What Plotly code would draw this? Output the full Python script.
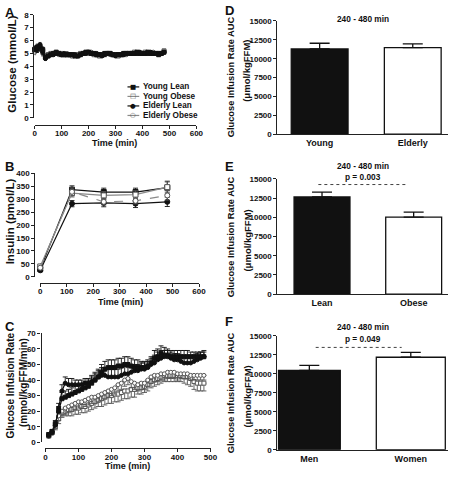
import plotly.graph_objects as go

W, H = 457, 478
def px(x): return x / W
def py(y): return 1 - y / H

FONT = "Liberation Sans, Arial, sans-serif"
BLACK = "#111111"
GREY = "#8a8a8a"
AXC = "#222222"

groups = ["Young Lean", "Young Obese", "Elderly Lean", "Elderly Obese"]

# ---------------- Panel A: glucose (mmol/L) ----------------
glucose_time = list(range(0, 481, 10))
glucose_yl = [5.3, 5.5, 5.6, 5.3, 4.7, 4.8, 4.9, 5.0, 5.1, 5.0,
              4.9, 4.9, 4.9, 4.9, 4.9, 4.8, 4.8, 4.9, 5.0, 5.1,
              5.1, 5.0, 5.0, 4.9, 4.9, 4.9, 5.0, 5.0, 5.0, 4.9,
              4.9, 4.9, 4.9, 5.0, 5.0, 5.0, 5.0, 5.0, 5.1, 5.0,
              5.0, 5.0, 5.1, 5.0, 5.0, 5.0, 4.9, 5.0, 5.1]
glucose_yo = [5.2, 5.4, 5.5, 5.2, 4.8, 4.9, 5.0, 5.0, 5.0, 5.0,
              5.0, 4.9, 4.9, 4.9, 4.8, 4.9, 4.9, 5.0, 5.0, 5.0,
              5.0, 5.0, 4.9, 4.9, 4.8, 4.9, 4.9, 5.0, 5.0, 4.9,
              4.9, 4.8, 4.9, 4.9, 5.0, 5.0, 5.0, 5.1, 5.0, 5.0,
              5.0, 5.1, 5.0, 5.0, 5.0, 5.0, 5.0, 5.0, 5.2]
glucose_el = [5.4, 5.3, 5.5, 5.1, 4.6, 4.8, 4.9, 4.9, 5.0, 5.0,
              4.9, 5.0, 4.9, 4.9, 4.9, 4.9, 4.8, 4.9, 5.0, 5.0,
              5.1, 5.0, 5.0, 5.0, 4.9, 4.8, 4.9, 5.0, 5.0, 4.9,
              4.8, 4.9, 4.9, 4.9, 5.0, 5.0, 5.0, 5.0, 5.0, 5.1,
              5.0, 5.0, 5.0, 5.1, 5.0, 5.0, 5.0, 5.0, 5.1]
glucose_eo = [5.1, 5.3, 5.4, 5.0, 4.8, 4.9, 5.0, 5.0, 5.0, 4.9,
              4.9, 4.9, 5.0, 4.9, 4.9, 4.9, 4.9, 4.9, 5.0, 5.0,
              5.0, 5.1, 5.0, 4.9, 4.9, 4.9, 5.0, 5.0, 4.9, 4.9,
              4.9, 4.9, 4.9, 5.0, 4.9, 5.0, 5.0, 5.0, 5.0, 5.0,
              5.0, 5.0, 5.0, 5.0, 5.1, 5.0, 5.0, 5.0, 5.1]
glucose_err = [0.20, 0.22, 0.25, 0.20, 0.15, 0.12, 0.10, 0.10, 0.10, 0.10,
               0.10, 0.09, 0.10, 0.10, 0.09, 0.10, 0.10, 0.10, 0.11, 0.10,
               0.10, 0.10, 0.09, 0.10, 0.10, 0.10, 0.10, 0.09, 0.10, 0.10,
               0.10, 0.10, 0.10, 0.09, 0.10, 0.10, 0.10, 0.10, 0.10, 0.09,
               0.10, 0.10, 0.09, 0.10, 0.10, 0.10, 0.10, 0.10, 0.12]

# ---------------- Panel B: insulin (pmol/L) ----------------
insulin_time = [0, 120, 240, 360, 480]
insulin_yl = [30, 337, 328, 328, 345]
insulin_yo = [40, 324, 315, 318, 347]
insulin_el = [25, 283, 286, 283, 290]
insulin_eo = [35, 329, 290, 294, 315]
insulin_err_yl = [8, 15, 15, 15, 25]
insulin_err_yo = [10, 15, 15, 15, 20]
insulin_err_el = [6, 12, 15, 15, 18]
insulin_err_eo = [8, 15, 12, 12, 18]

# ---------------- Panel C: glucose infusion rate ----------------
gir_time = list(range(10, 481, 10))
gir_yl = [5, 7, 12, 20, 28, 29, 30, 31, 32, 33,
          34, 35, 36, 38, 40, 42, 45, 47, 48, 48,
          48, 49, 49, 50, 50, 49, 48, 48, 48, 48,
          49, 51, 54, 55, 57, 56, 56, 55, 55, 55,
          55, 55, 55, 55, 55, 55, 55, 55]
gir_el = [4, 6, 11, 22, 33, 38, 37, 37, 37, 37,
          37, 38, 38, 39, 40, 42, 43, 43, 42, 42,
          42, 42, 43, 44, 44, 45, 46, 46, 47, 47,
          48, 50, 51, 53, 54, 55, 55, 54, 53, 53,
          52, 51, 51, 51, 52, 53, 54, 55]
gir_yo = [4, 6, 10, 15, 19, 20, 21, 21, 22, 22,
          23, 23, 24, 25, 26, 27, 28, 29, 30, 30,
          31, 31, 32, 33, 33, 34, 34, 35, 35, 36,
          37, 39, 40, 41, 42, 43, 43, 43, 43, 43,
          43, 42, 42, 41, 39, 38, 38, 38]
gir_eo = [5, 7, 11, 17, 20, 22, 23, 24, 25, 26,
          26, 27, 28, 29, 29, 30, 31, 32, 33, 34,
          35, 37, 38, 40, 41, 39, 38, 37, 38, 38,
          40, 42, 43, 43, 44, 44, 45, 45, 45, 44,
          44, 44, 44, 43, 43, 43, 43, 43]
gir_err_yl = [1, 1, 2, 3, 4, 4, 4, 4, 4, 4,
              4, 4, 4, 4, 5, 5, 5, 5, 5, 5,
              5, 5, 5, 5, 5, 5, 5, 5, 4, 4,
              4, 4, 5, 5, 5, 5, 4, 4, 4, 4,
              4, 4, 4, 3, 3, 3, 3, 3]
gir_err_el = [1, 1, 2, 3, 4, 4, 4, 4, 3, 3,
              3, 3, 3, 4, 4, 4, 5, 5, 5, 5,
              5, 5, 5, 5, 4, 4, 4, 4, 4, 4,
              4, 4, 5, 5, 5, 4, 4, 4, 4, 4,
              4, 4, 4, 4, 4, 4, 4, 4]
gir_err_yo = [1, 1, 2, 3, 3, 3, 4, 4, 4, 4,
              4, 4, 4, 4, 4, 4, 5, 5, 5, 5,
              5, 5, 5, 5, 5, 5, 5, 4, 4, 4,
              4, 4, 4, 4, 4, 4, 4, 4, 4, 4,
              4, 4, 5, 5, 5, 5, 5, 5]
gir_err_eo = [1, 1, 2, 3, 3, 4, 4, 4, 4, 4,
              4, 4, 4, 4, 4, 4, 4, 4, 4, 4,
              4, 4, 4, 4, 4, 4, 4, 4, 4, 4,
              4, 4, 4, 4, 4, 4, 4, 4, 4, 4,
              3, 3, 3, 3, 3, 3, 3, 3]

# ---------------- Panels D-F: GIR AUC 240-480 min ----------------
age_cats = ["Young", "Elderly"]
age_auc = [11300, 11480]
age_err = [750, 480]
bmi_cats = ["Lean", "Obese"]
bmi_auc = [12650, 10020]
bmi_err = [640, 670]
sex_cats = ["Men", "Women"]
sex_auc = [10470, 12190]
sex_err = [650, 650]
p_bmi = "p = 0.003"
p_sex = "p = 0.049"
window_label = "240 - 480 min"

styles = {
    "Young Lean":    dict(symbol="square", fill=BLACK,   edge=BLACK,  line=BLACK, dash="solid"),
    "Young Obese":   dict(symbol="square", fill="white", edge="#555", line=GREY,  dash="solid"),
    "Elderly Lean":  dict(symbol="circle", fill=BLACK,   edge=BLACK,  line=BLACK, dash="solid"),
    "Elderly Obese": dict(symbol="circle", fill="white", edge="#555", line=GREY,  dash="dash"),
}

fig = go.Figure()

def add_series(name, xs, ys, err_plus, err_minus, xa, ya, msize, capw):
    s = styles[name]
    fig.add_trace(go.Scatter(
        x=xs, y=ys, name=name, mode="lines+markers", xaxis=xa, yaxis=ya,
        cliponaxis=False, showlegend=False,
        line=dict(color=s["line"], width=1.2, dash=s["dash"]),
        marker=dict(symbol=s["symbol"], size=msize, color=s["fill"],
                    line=dict(color=s["edge"], width=1)),
        error_y=dict(type="data", symmetric=False, array=err_plus,
                     arrayminus=err_minus, color=s["edge"] if s["fill"] == "white" else BLACK,
                     thickness=0.9, width=capw),
    ))

# A (obese groups drawn first, lean groups on top)
order_a = [("Young Obese", glucose_yo), ("Elderly Obese", glucose_eo),
           ("Elderly Lean", glucose_el), ("Young Lean", glucose_yl)]
for name, ys in order_a:
    add_series(name, glucose_time, ys, glucose_err, glucose_err, "x", "y", 4, 1.5)
# B
for name, ys, e in zip(groups, [insulin_yl, insulin_yo, insulin_el, insulin_eo],
                       [insulin_err_yl, insulin_err_yo, insulin_err_el, insulin_err_eo]):
    add_series(name, insulin_time, ys, e, e, "x2", "y2", 5, 2.5)
# C (lean groups: upper error bars, obese groups: lower error bars)
zeros = [0] * len(gir_time)
add_series("Young Obese", gir_time, gir_yo, zeros, gir_err_yo, "x3", "y3", 4, 2.5)
add_series("Elderly Obese", gir_time, gir_eo, zeros, gir_err_eo, "x3", "y3", 4, 2.5)
add_series("Elderly Lean", gir_time, gir_el, gir_err_el, zeros, "x3", "y3", 4, 2.5)
add_series("Young Lean", gir_time, gir_yl, gir_err_yl, zeros, "x3", "y3", 4, 2.5)

# Bars
def add_bars(cats, vals, errs, xa, ya, widths):
    fig.add_trace(go.Bar(
        x=cats, y=vals, xaxis=xa, yaxis=ya, width=widths, showlegend=False,
        marker=dict(color=[BLACK, "white"], line=dict(color=BLACK, width=1.3)),
        error_y=dict(type="data", symmetric=False, array=errs, arrayminus=[0, 0],
                     color=BLACK, thickness=1.3, width=10),
    ))

add_bars(age_cats, age_auc, age_err, "x4", "y4", [0.61, 0.61])
add_bars(bmi_cats, bmi_auc, bmi_err, "x5", "y5", [0.61, 0.61])
add_bars(sex_cats, sex_auc, sex_err, "x6", "y6", [0.61, 0.68])

tickfont = dict(family=FONT, size=8, color=BLACK, weight="bold")
base = dict(showline=True, linecolor=AXC, linewidth=1.2, ticks="outside", ticklen=3,
            tickwidth=1.2, tickcolor=AXC, showgrid=False, zeroline=False,
            tickfont=tickfont, fixedrange=True)

def xline(domain, rng, pos, dtick):
    return dict(base, domain=domain, range=rng, anchor="free", position=pos,
                tickmode="linear", tick0=0, dtick=dtick, ticklabelstandoff=-2)

def yline(domain, rng, pos, dtick):
    return dict(base, domain=domain, range=rng, anchor="free", position=pos,
                tickmode="linear", tick0=0, dtick=dtick)

def xbar(rng, anchor):
    return dict(base, domain=[px(281), px(455)], range=rng, type="category",
                anchor=anchor, ticks="", tickfont=dict(tickfont, size=9))

def ybar(domain, anchor):
    return dict(base, domain=domain, range=[0, 15000], anchor=anchor,
                tickmode="linear", tick0=0, dtick=2500, tickformat="d")

layout = dict(
    width=W, height=H, margin=dict(l=0, r=0, t=0, b=0),
    paper_bgcolor="white", plot_bgcolor="white", showlegend=False,
    font=dict(family=FONT, color=BLACK),
    xaxis=xline([px(33.3), px(198.3)], [0, 600], py(123), 100),
    yaxis=yline([py(116), py(11)], [0, 8], px(32), 1),
    xaxis2=xline([px(39), px(201)], [0, 600], py(284), 100),
    yaxis2=yline([py(278), py(172.7)], [0, 400], px(33), 50),
    xaxis3=xline([px(44.3), px(212.7)], [0, 500], py(452.5), 100),
    yaxis3=yline([py(446.7), py(335.7)], [0, 70], px(39.3), 10),
    xaxis4=xbar([-0.453, 1.379], "y4"),
    yaxis4=ybar([py(132.7), py(17.3)], "x4"),
    xaxis5=xbar([-0.486, 1.375], "y5"),
    yaxis5=ybar([py(295.7), py(178.3)], "x5"),
    xaxis6=xbar([-0.314, 1.367], "y6"),
    yaxis6=ybar([py(454.3), py(338.3)], "x6"),
)
fig.update_layout(**layout)

ann = []
def text(x, y, s, size, angle=0, xanchor="center", yanchor="middle"):
    ann.append(dict(x=px(x), y=py(y), xref="paper", yref="paper", text=s, showarrow=False,
                    textangle=angle, xanchor=xanchor, yanchor=yanchor, borderpad=0,
                    font=dict(family=FONT, size=size, color=BLACK, weight="bold")))

# panel letters
for letter, x, y in [("A", 2, 9), ("B", 2, 166), ("C", 2, 329),
                     ("D", 226, 7), ("E", 226, 166), ("F", 226, 324)]:
    text(x, y, letter, 13, xanchor="left")

# axis titles
text(115, 142, "Time (min)", 9)
text(121, 304, "Time (min)", 9)
text(128, 471, "Time (min)", 9)
text(10, 61, "Glucose (mmol/L)", 11.5, angle=-90)
text(8, 221.7, "Insulin (pmol/L)", 11.5, angle=-90)
text(9, 389, "Glucose Infusion Rate", 10, angle=-90)
text(21.7, 386, "(mmol/kgFFM/min)", 10, angle=-90)
for yc1, yc2 in [(74, 68), (237, 241), (396, 400)]:
    text(233.3, yc1, "Glucose Infusion Rate AUC", 9.3, angle=-90)
    text(250, yc2, "(μmol/kgFFM)", 9.5, angle=-90)

# bar panel headers
text(368, 15, window_label, 8.3)
text(368, 164.8, window_label, 8.3)
text(368, 176, p_bmi, 8.3)
text(368, 329.3, window_label, 8.3)
text(368, 341.7, p_sex, 8.3)

# legend (panel A)
legend_rows = [84.5, 94.2, 103.9, 113.6]
glyph = {"Young Lean": "■", "Young Obese": "□", "Elderly Lean": "●", "Elderly Obese": "○"}
shapes = []
for name, yr in zip(groups, legend_rows):
    s = styles[name]
    shapes.append(dict(type="line", xref="paper", yref="paper", x0=px(128), x1=px(140),
                       y0=py(yr), y1=py(yr), line=dict(color=s["line"], width=1.2)))
    ann.append(dict(x=px(134), y=py(yr), xref="paper", yref="paper", text=glyph[name],
                    showarrow=False, xanchor="center", yanchor="middle", borderpad=0,
                    font=dict(family="DejaVu Sans", size=6.5,
                              color=BLACK if s["fill"] != "white" else "#555")))
    text(142.5, yr, name, 8.2, xanchor="left")

# significance dashed lines
shapes.append(dict(type="line", xref="paper", yref="paper", x0=px(322.7), x1=px(412.7),
                   y0=py(184), y1=py(184), line=dict(color=BLACK, width=0.8, dash="dot")))
shapes.append(dict(type="line", xref="paper", yref="paper", x0=px(320), x1=px(407.7),
                   y0=py(350), y1=py(350), line=dict(color=BLACK, width=0.8, dash="dot")))

fig.update_layout(annotations=ann, shapes=shapes)
fig.write_html("out.html", config={"displayModeBar": False},
               post_script="document.body.style.margin='0px';document.body.style.overflow='hidden';")
